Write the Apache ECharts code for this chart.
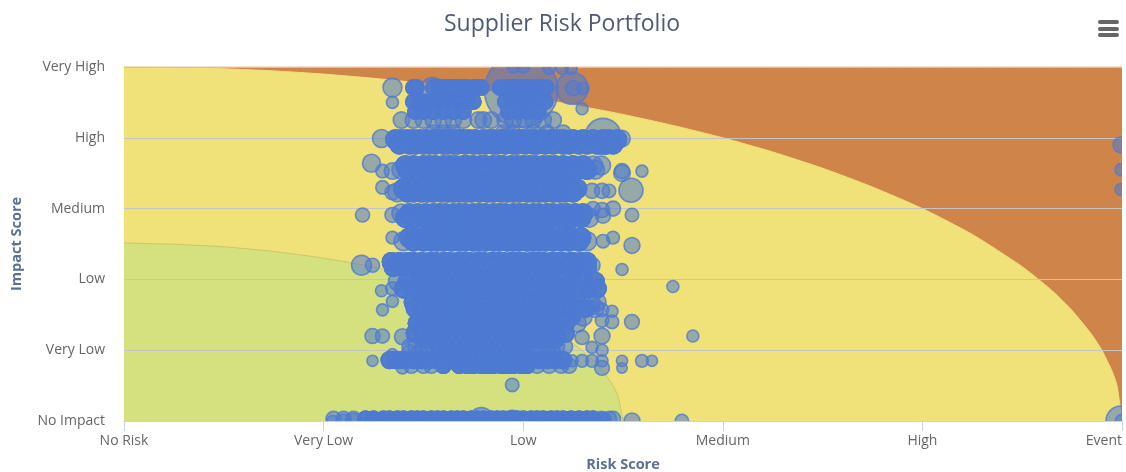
<!DOCTYPE html>
<html>
<head>
<meta charset="utf-8">
<style>html,body{margin:0;padding:0;background:#fff}#main{width:1126px;height:472px}</style>
<script src="https://cdn.jsdelivr.net/npm/echarts@6/dist/echarts.min.js"></script>
</head>
<body>
<div id="main"></div>
<script>
// Axis wording, one label per 20 points of score
const riskLabels = ['No Risk', 'Very Low', 'Low', 'Medium', 'High', 'Event'];
const impactLabels = ['No Impact', 'Very Low', 'Low', 'Medium', 'High', 'Very High'];

// Risk-zone boundaries as [risk, impact]
const yellowZoneX = [0,5,10,15,20,25,30,35,40,45,50,55,60,65,70,75,80,85,90,93,95,97,98,99,99.5,100];
const yellowZoneY = [100,99.9,99.5,98.9,98,96.8,95.4,93.7,91.7,89.3,86.6,83.5,80,76,71.4,66.1,60,52.7,43.6,36.8,31.2,24.3,19.9,14.1,10,0];
const greenZoneX = [0,5,10,15,20,25,30,33,36,39,41,43,45,46,47,48,49,49.5,50];
const greenZoneY = [50.3,49.9,49.2,47.9,46,43.5,40.2,37.8,34.9,31.5,28.8,25.6,21.9,19.7,17.1,14.1,10,7,0];

// Supplier risk scores grouped by impact score; the other row arrays run parallel to rowRisk
const rowImpact = [94.2,90.2,87.4,85,81.5,79.5,78.2,72.2,71,65.6,64.6,58.6,57.4,51.8,50.8,45,43.4,39.4,37.4,33.6,31.8,29.4,27.6,24.8,23.2,21,19.4,17.2,15.6,0.6,0.2];
const rowSpend = [25,25,25,30,25,40,40,40,40,40,40,40,40,40,40,36,36,36,36,36,36,36,36,36,36,25,25,30,25,25,30];
// Stretch of each row where several suppliers share the same scores
const rowCoreFrom = [29,29,29,0,0,27,27,28,28,27.8,27.8,28,28,28.4,28.4,26.8,26.8,28,28,29,29,29.2,29.2,29.2,29.2,31.6,31.6,26.5,31,24,25];
const rowCoreTo = [42.5,42.5,42,0,0,49.5,49.5,46.5,46.5,45.5,45.5,46,46,46,46,46.5,46.5,47.5,47.5,46.4,46.4,45,45,44.5,44.5,40.4,40.4,44.5,41,47,47];
const suppliersPerCorePoint = 4;
const rowRisk = [
  [29,29.3,31,31.6,32,32.5,33,33.4,34,34.3,35,35.3,35.8,37.7,38,38.6,39,39.5,40,40.4,41,41.5,42,42.3],
  [29,29.5,30,30.5,31,31.5,32,32.5,33,33.5,34,34.5,35,38.2,38.8,39,39.6,40,40.5,41,41.6,42.2],
  [29.2,30,31,32,33,34,38.5,39.5,40.5,41.5],
  [27.8,29,30,31,32,33,34,35.5,36,36.8,38.2,39,40.2,41,42,43],
  [31,32,33,38,39,41,42.4,44],
  [27.2,27.8,28.4,29,29.6,30.2,31,31.4,32,32.6,33,33.6,34,34.6,35.2,36,36.6,37,37.8,38.2,39,39.6,40,40.6,41.2,42,42.8,43.4,44,45,46,47,48,48.6,49.4],
  [27.6,28.6,29.2,30,30.6,31.2,32,32.4,33,33.4,34.2,35,35.6,36.2,37,37.4,38.2,39,39.4,40.2,41,41.4,42.2,43,44,44.6,45.6,46.4,47.4,48.2,49],
  [28.2,29,30,30.6,31.2,32,32.6,33.2,34,34.4,35,35.8,36.2,37,37.6,38,38.8,39.4,40,40.6,41.2,42,42.6,43.2,44,45,46,47,47.8],
  [27.8,28.4,29.4,30.2,30.8,31.4,32.2,32.8,33.6,34.2,34.8,35.4,36,36.8,37.2,38,38.6,39.2,39.8,40.4,41,41.8,42.4,43,43.8,44.6,45.4,46.4,47.2],
  [28,28.6,29.2,30,30.6,31.2,32,32.6,33.2,33.8,34.4,35,35.6,36.2,37,37.6,38.2,38.8,39.4,40,40.6,41.2,42,42.8,43.4,44,44.8,45.4],
  [27.4,28.4,29,29.8,30.4,31,31.8,32.4,33,33.6,34.2,34.8,35.6,36.4,37,37.8,38.4,39,39.6,40.4,41,41.6,42.2,43,43.6,44.2,45],
  [27.8,28.6,29.4,30.2,31,31.6,32.2,33,33.6,34.2,35,35.6,36.2,37,37.6,38.2,39,39.6,40.2,41,41.6,42.4,43,43.8,44.4,45.2,46],
  [28.2,29,30,30.6,31.4,32,32.8,33.4,34,34.8,35.4,36,36.8,37.4,38,38.8,39.4,40,40.8,41.4,42,42.8,43.6,44.4,45,45.8,46.6],
  [28.6,29.4,30.2,31,31.6,32.4,33,33.8,34.4,35,35.8,36.4,37,37.8,38.4,39,39.8,40.4,41,41.8,42.4,43,44,44.8,45.8],
  [28,29,30,30.8,31.4,32,32.8,33.6,34.2,35,35.6,36.2,37,37.6,38.4,39,39.6,40.4,41,41.6,42.2,43,43.8,44.6,45.6,46.4],
  [26.8,27.6,28.4,29,29.8,30.6,31.2,32,32.6,33.4,34,34.6,35.4,36,36.8,37.4,38,38.8,39.4,40,40.8,41.4,42,42.8,43.4,44,44.8,45,45.8,46.4],
  [27,28,29,29.6,30.4,31,31.8,32.4,33,33.8,34.4,35,35.8,36.4,37,37.8,38.4,39,39.8,40.4,41,41.8,42.6,43.2,44.6,45.4,46.4],
  [27.4,28.4,29.6,30.4,31,31.8,32.4,33,33.8,34.4,35,35.8,36.4,37,37.8,38.4,39,39.8,40.4,41,41.8,42.4,43,44,45,46,47.2],
  [28,29,30,30.8,31.4,32,32.8,33.4,34,34.8,35.4,36,36.8,37.4,38,38.8,39.4,40,40.8,41.4,42,42.8,43.6,44.4,45.4,46.6,47.4],
  [29,30,30.8,31.4,32,32.8,33.4,34,34.8,35.4,36,36.8,37.4,38,38.8,39.4,40,40.8,41.4,42,42.8,43.6,44.4,45.4,46.8,47.4],
  [29.2,30.2,31,31.8,32.4,33,33.8,34.4,35,35.8,36.4,37,37.8,38.4,39,39.8,40.4,41,41.8,42.4,43,44,45,46.2,47.2],
  [29.8,30.6,31.2,32,32.6,33.4,34,34.6,35.4,36,36.6,37.4,38,38.6,39.4,40,40.6,41.4,42,42.8,43.8,44.8,46],
  [29.4,30.4,31,31.8,32.4,33,33.8,34.4,35,35.8,36.4,37,37.8,38.4,39,39.8,40.4,41,41.8,42.4,43.2,44.2,45.4],
  [29.2,30,30.8,31.4,32,32.8,33.4,34,34.8,35.4,36,36.8,37.4,38,38.8,39.4,40,40.8,41.4,42,42.8,43.4,44.2],
  [30,30.8,31.6,32.2,33,33.6,34.2,35,35.6,36.2,37,37.6,38.2,39,39.6,40.2,41,41.6,42.4,43.2],
  [28.6,29.2,30.2,31,31.4,32.2,33,33.6,34.4,35,35.6,36.4,37,37.6,38.4,39,39.6,40,41,41.8,42.6,43.4,44.2],
  [28.6,29.6,30.4,31.6,32.4,33,33.8,34.4,35,35.8,36.4,37,37.8,38.4,39,40.2,41.4,42.4,43],
  [26.6,27.2,27.6,28.2,29,29.8,30.6,31.4,32,32.8,33.4,34,34.8,35.4,36,36.8,37.4,38,38.8,39.4,40,40.8,41.6,42.4,43.2,44],
  [28.8,30,30.8,32,33.6,34.4,35,35.8,36.4,37,37.8,38.4,39,39.8,40.4,41.4,42.6,43.8,44.6],
  [21,22,23,24.2,25,26,26.6,27.4,28,28.8,29.4,30,30.8,31.4,32,32.8,33.4,34,34.8,35.4,36,36.8,37.4,38,38.8,39.4,40,40.8,41.4,42,42.8,43.4,44,44.8,45.6,46.4,47,47.8,48.6,49],
  [25,26,27,28,29,30,31,32,33,34,35,36,37,38,39,40,41,42,43,44,45,46,47,48]
];

// Suppliers sitting apart from the main rows as [risk, impact, spend]
const outlierBubbles = [
  [26.9,94.2,40],[26.9,90,16],[30.9,93.6,64],[39.8,93.4,600],[44.9,94,114],[45,94,25],[46,94,16],[45.9,88.2,16],
  [39,100,16],[40,100,16],[42.6,99.6,16],[43.9,99.6,16],[44.8,99.6,16],
  [25.8,79.8,36],[48,80.4,144],[49.9,79.8,30],
  [24.8,72.8,36],[25.9,70.6,20],[26.9,70.6,30],[49.9,70.6,25],[49.9,70,30],[51.9,70.6,16],
  [25.9,66,20],[26.9,64.6,25],[46.9,65,25],[47.9,65,25],[48.6,65,20],[50.8,65.2,64],
  [23.9,58.2,22],[26.9,58.2,25],[47,60,22],[47.9,59.6,25],[49,60,25],[48,58,25],[50.9,58.2,20],
  [26.9,51.8,18],[48,50.8,20],[49,51.8,18],[50.9,49.6,28],
  [23.8,44,44],[24.9,44,22],[46.9,44,28],[44.9,44,25],[49.9,42.8,16],
  [25.8,36.8,16],[26.9,37.4,20],[55,38,16],
  [25.9,31.4,16],[26.9,33.8,16],[47,32,20],[48.9,31,16],[47.9,31.4,20],
  [50.9,28,24],[47.9,28.4,20],[48.9,28,20],
  [24.9,24,25],[25.9,24,22],[27.9,23.8,28],[45.9,23.6,22],[47.9,24,28],[57,24,16],
  [26.9,19,12],[46.9,20.8,16],[47.9,20,16],
  [24.9,17,14],[26.9,17,18],[44.9,17,16],[45.9,17,18],[46.9,17,18],[47.9,17,16],[49.9,17,14],[51.9,17,18],[52.9,17,14],
  [27.9,15,16],[47.9,15,24],[49.9,15,12],
  [38.9,10.2,20],
  [20.9,0,14],[22,0.2,18],[23,0.2,22],[35.8,0.4,64],[38.9,0.2,44],[48,0.2,20],[50.9,0,28],[55.9,0,20],
  [99.9,78,28],[99.9,71,16],[99.9,65.4,16],[99.9,0,100],[100,0,20]
];

// Each supplier becomes [risk, impact, spend]; core points hold several suppliers
const supplierBubbles = rowRisk.flatMap((xs, i) => xs.flatMap(x => {
  const inCore = x >= rowCoreFrom[i] && x <= rowCoreTo[i];
  return Array.from({ length: inCore ? suppliersPerCorePoint : 1 }, () => [x, rowImpact[i], rowSpend[i]]);
})).concat(outlierBubbles);

const zoneSeries = (name, xs, ys, color, edge) => ({
  name, type: 'line', z: 1, silent: true, symbol: 'none',
  smooth: 0.2,
  data: xs.map((x, i) => [x, ys[i]]),
  lineStyle: { color: edge, width: 1 },
  areaStyle: { color, opacity: 1 }
});

// Area of the bubble follows spend; the circles are clipped to the plot rectangle
const renderBubble = (params, api) => {
  const [cx, cy] = api.coord([api.value(0), api.value(1)]);
  return {
    type: 'circle',
    shape: { cx, cy, r: 1.5 * Math.sqrt(api.value(2)) },
    style: { fill: 'rgba(78,122,210,0.55)', stroke: 'rgba(78,122,210,0.8)', lineWidth: 1.6 }
  };
};

const chart = echarts.init(document.getElementById('main'), null, { renderer: 'canvas' });
const fontFamily = '"Open Sans", sans-serif';
chart.setOption({
  animation: false,
  backgroundColor: '#ffffff',
  title: {
    text: 'Supplier Risk Portfolio', left: 557, top: 8, textAlign: 'center',
    textStyle: { color: '#4d5b75', fontFamily, fontSize: 23, fontWeight: 'normal' }
  },
  grid: { left: 124, right: 4, top: 67, bottom: 51, outerBoundsMode: 'none' },
  xAxis: {
    type: 'value', min: 0, max: 100, interval: 20, z: 3,
    name: 'Risk Score', nameLocation: 'middle', nameGap: 36,
    nameTextStyle: { color: '#5b7095', fontFamily, fontSize: 14.5, fontWeight: 'bold' },
    axisLine: { lineStyle: { color: '#c8d4e6', width: 1 } },
    axisTick: { show: true, length: 10, lineStyle: { color: '#c8d4e6' } },
    splitLine: { show: false },
    axisLabel: {
      color: '#666666', fontFamily, fontSize: 14, margin: 13, alignMaxLabel: 'right',
      formatter: v => riskLabels[v / 20]
    }
  },
  yAxis: {
    type: 'value', min: 0, max: 100, interval: 20, z: 3,
    name: 'Impact Score', nameLocation: 'middle', nameGap: 100, nameRotate: 90,
    nameTextStyle: { color: '#5b7095', fontFamily, fontSize: 14.5, fontWeight: 'bold' },
    axisLine: { show: false }, axisTick: { show: false },
    splitLine: { lineStyle: { color: '#c4c4c4', width: 1 } },
    axisLabel: {
      color: '#666666', fontFamily, fontSize: 14, margin: 19,
      formatter: v => impactLabels[v / 20]
    }
  },
  graphic: [
    { type: 'rect', left: 1098, top: 20, shape: { width: 21, height: 4, r: 2 }, style: { fill: '#666666' } },
    { type: 'rect', left: 1098, top: 27, shape: { width: 21, height: 4, r: 2 }, style: { fill: '#666666' } },
    { type: 'rect', left: 1098, top: 33, shape: { width: 21, height: 4, r: 2 }, style: { fill: '#666666' } }
  ],
  series: [
    zoneSeries('High zone', [0, 100], [100, 100], '#cf844a', '#cf844a'),
    zoneSeries('Medium zone', yellowZoneX, yellowZoneY, '#f0e178', '#f0e178'),
    zoneSeries('Low zone', greenZoneX, greenZoneY, '#d5e07e', '#c8c76a'),
    {
      name: 'Suppliers', type: 'custom', z: 5, clip: true, progressive: 0, silent: true,
      data: supplierBubbles,
      encode: { x: 0, y: 1 },
      renderItem: renderBubble
    }
  ]
});
</script>
</body>
</html>
